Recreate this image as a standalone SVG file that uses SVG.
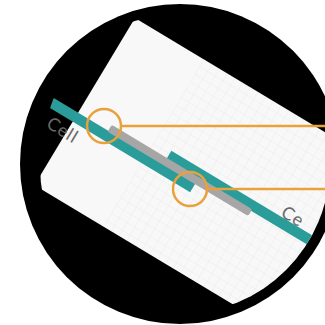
<svg xmlns="http://www.w3.org/2000/svg" width="325" height="325" viewBox="0 0 325 325">
<defs>
<clipPath id="lensA"><circle cx="210" cy="165" r="170"/></clipPath>
<clipPath id="lensB"><circle cx="180" cy="164" r="150"/></clipPath>
<pattern id="grid" width="9" height="9" patternUnits="userSpaceOnUse">
<path d="M9 0V9M0 9H9" fill="none" stroke="#ebebeb" stroke-width="1"/>
</pattern>
<style>
.teal{fill:#2a9d9b}
.bar{fill:#a6a6a6}
.lbl{font-family:"Lato","Noto Sans",sans-serif;font-size:18px;fill:#686868;letter-spacing:0.8px}
.call{fill:none;stroke:#e9a23b;stroke-width:2.5}
</style>
</defs>
<rect width="325" height="325" fill="#ffffff"/>
<circle cx="180" cy="164" r="160" fill="#000000"/>
<g clip-path="url(#lensB)">
<g clip-path="url(#lensA)">
<g transform="translate(135,18) rotate(31)">
<rect x="0" y="0" width="420" height="195" fill="#f8f8f8"/>
<rect x="80" y="0" width="340" height="195" fill="url(#grid)"/>
<g id="cell-left">
<rect class="teal" x="-60" y="110.5" width="197" height="10.5"/>
<text class="lbl" x="-21" y="139.5">Cell</text>
</g>
<g id="cell-right">
<rect class="teal" x="99.5" y="95" width="320" height="10.5"/>
<text class="lbl" x="226" y="95">Ce</text>
</g>
<rect id="gap" class="bar" x="35" y="103.5" width="164" height="8" rx="2.5"/>
</g>
</g>
</g>
<g id="callouts">
<circle class="call" cx="104" cy="126" r="17"/>
<line class="call" x1="121" y1="126" x2="325" y2="126"/>
<circle class="call" cx="190" cy="189" r="17"/>
<line class="call" x1="207" y1="189" x2="325" y2="189"/>
</g>
</svg>
